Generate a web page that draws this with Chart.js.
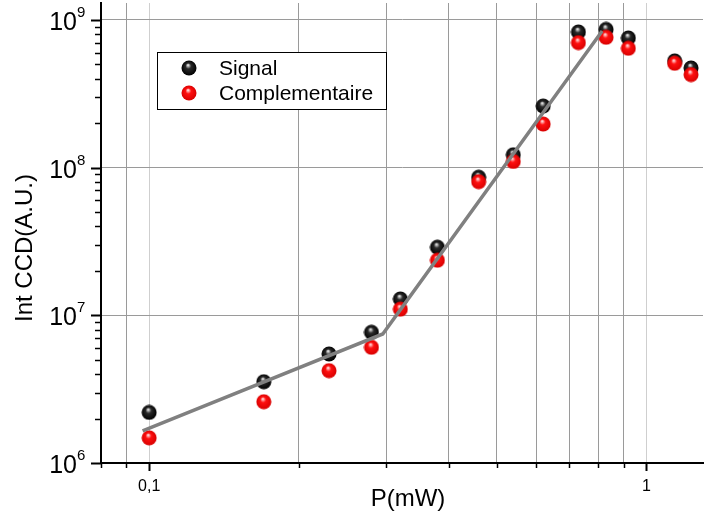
<!DOCTYPE html>
<html>
<head>
<meta charset="utf-8">
<script src="https://cdn.jsdelivr.net/npm/chart.js@4.4.0/dist/chart.umd.min.js"></script>
<style>
  html, body { margin: 0; padding: 0; background: #fff; }
</style>
</head>
<body>
<canvas id="chart" width="708" height="517"></canvas>
<script>
// Data (P in mW, intensity in A.U.)
const powerMW = [0.10, 0.17, 0.23, 0.28, 0.32, 0.38, 0.46, 0.54, 0.62, 0.73, 0.83, 0.92, 1.14, 1.23];
const signalInt = [2.20e6, 3.55e6, 5.47e6, 7.67e6, 1.29e7, 2.89e7, 8.60e7, 1.22e8, 2.61e8, 8.28e8, 8.61e8, 7.54e8, 5.27e8, 4.72e8];
const complInt = [1.48e6, 2.60e6, 4.22e6, 6.07e6, 1.10e7, 2.36e7, 8.03e7, 1.10e8, 1.97e8, 7.01e8, 7.62e8, 6.42e8, 5.08e8, 4.26e8];
const fitPower = [0.097, 0.295, 0.815];
const fitInt = [1.65e6, 7.47e6, 8.4e8];

// Axis ticks
const xTicks = [0.08, 0.09, 0.1, 0.2, 0.3, 0.4, 0.5, 0.6, 0.7, 0.8, 0.9, 1];
const xLabelValues = [0.1, 1];
const xLabelTexts = ['0,1', '1'];
const yTicks = [1e6, 2e6, 3e6, 4e6, 5e6, 6e6, 7e6, 8e6, 9e6,
                1e7, 2e7, 3e7, 4e7, 5e7, 6e7, 7e7, 8e7, 9e7,
                1e8, 2e8, 3e8, 4e8, 5e8, 6e8, 7e8, 8e8, 9e8, 1e9];
const yExponents = [6, 7, 8, 9];
const legendNames = ['Signal', 'Complementaire'];

const FONT = '"Liberation Sans", Arial, sans-serif';

function isDecade(v) {
  const l = Math.log10(v);
  return Math.abs(l - Math.round(l)) < 1e-9;
}

// little shaded balls like the original markers
function sphere(hi, base, edge) {
  const c = document.createElement('canvas');
  c.width = c.height = 16;
  const g = c.getContext('2d');
  const grd = g.createRadialGradient(7, 5, 0.3, 8, 8, 7.6);
  grd.addColorStop(0, hi);
  grd.addColorStop(0.35, base);
  grd.addColorStop(1, edge);
  g.fillStyle = grd;
  g.beginPath();
  g.arc(8, 8, 7.5, 0, Math.PI * 2);
  g.fill();
  return c;
}
const blackBall = sphere('#f0f0f0', '#2a2a2a', '#000000');
const redBall = sphere('#ffe8e8', '#ff1010', '#d80000');

const decorations = {
  id: 'decorations',
  afterDraw(chart) {
    const ctx = chart.ctx;
    const xs = chart.scales.x, ys = chart.scales.y;
    const area = chart.chartArea;
    ctx.save();
    ctx.strokeStyle = '#000';

    // x tick marks
    xTicks.forEach(v => {
      const px = Math.round(xs.getPixelForValue(v)) + 0.5;
      const major = isDecade(v);
      ctx.lineWidth = major ? 2 : 1.5;
      ctx.beginPath();
      ctx.moveTo(px, area.bottom);
      ctx.lineTo(px, area.bottom + (major ? 8 : 5));
      ctx.stroke();
    });
    // y tick marks
    yTicks.forEach(v => {
      const py = Math.round(ys.getPixelForValue(v)) + 0.5;
      const major = isDecade(v);
      ctx.lineWidth = major ? 2 : 1.5;
      ctx.beginPath();
      ctx.moveTo(area.left, py);
      ctx.lineTo(area.left - (major ? 10 : 6), py);
      ctx.stroke();
    });

    ctx.fillStyle = '#000';
    // x tick labels
    ctx.font = '16px ' + FONT;
    ctx.textAlign = 'center';
    ctx.textBaseline = 'middle';
    xLabelValues.forEach((v, i) => {
      ctx.fillText(xLabelTexts[i], xs.getPixelForValue(v), area.bottom + 24);
    });
    // y tick labels 10^n
    ctx.textBaseline = 'alphabetic';
    yExponents.forEach(e => {
      const py = ys.getPixelForValue(Math.pow(10, e));
      ctx.font = '25px ' + FONT;
      ctx.textAlign = 'right';
      ctx.fillText('10', 77, py + 10);
      ctx.font = '15px ' + FONT;
      ctx.textAlign = 'left';
      ctx.fillText(String(e), 77, py - 3);
    });

    // axis titles
    ctx.font = '24px ' + FONT;
    ctx.textAlign = 'center';
    ctx.textBaseline = 'middle';
    ctx.fillText('P(mW)', 408, 499);
    ctx.save();
    ctx.translate(25, 248);
    ctx.rotate(-Math.PI / 2);
    ctx.fillText('Int CCD(A.U.)', 0, 0);
    ctx.restore();

    // legend box
    ctx.fillStyle = '#fff';
    ctx.fillRect(157, 52, 229, 57);
    ctx.lineWidth = 1;
    ctx.strokeStyle = '#000';
    ctx.strokeRect(157.5, 52.5, 229, 57);
    [blackBall, redBall].forEach((img, i) => {
      const cy = 68 + i * 25;
      ctx.drawImage(img, 189 - 8, cy - 8);
      ctx.fillStyle = '#000';
      ctx.font = '21px ' + FONT;
      ctx.textAlign = 'left';
      ctx.textBaseline = 'middle';
      ctx.fillText(legendNames[i], 219, cy + 1);
    });
    ctx.restore();
  }
};

new Chart(document.getElementById('chart'), {
  type: 'scatter',
  data: {
    datasets: [
      {
        label: 'fit',
        data: fitPower.map((p, i) => ({ x: p, y: fitInt[i] })),
        showLine: true,
        borderColor: '#808080',
        borderWidth: 3.5,
        pointRadius: 0,
        order: 1
      },
      {
        label: legendNames[1],
        data: powerMW.map((p, i) => ({ x: p, y: complInt[i] })),
        pointStyle: redBall,
        pointRadius: 7,
        order: 2
      },
      {
        label: legendNames[0],
        data: powerMW.map((p, i) => ({ x: p, y: signalInt[i] })),
        pointStyle: blackBall,
        pointRadius: 7,
        order: 3
      }
    ]
  },
  options: {
    responsive: false,
    animation: false,
    devicePixelRatio: 1,
    layout: { autoPadding: false, padding: { top: 3, right: 5, left: 0, bottom: 0 } },
    plugins: { legend: { display: false }, tooltip: { enabled: false } },
    scales: {
      x: {
        type: 'logarithmic',
        min: 0.08,
        max: 1.3,
        border: { color: '#000', width: 2 },
        grid: {
          drawTicks: false,
          lineWidth: 1,
          color: (c) => {
            const v = c.tick && c.tick.value;
            if (!v || v < 0.085) return 'rgba(0,0,0,0)';
            return isDecade(v) ? '#cfcfcf' : '#9a9a9a';
          }
        },
        ticks: { display: false },
        afterBuildTicks: (s) => { s.ticks = xTicks.map(v => ({ value: v })); },
        afterFit: (s) => { s.height = 54; }
      },
      y: {
        type: 'logarithmic',
        min: 1e6,
        max: 1.3e9,
        border: { color: '#000', width: 2 },
        grid: {
          drawTicks: false,
          lineWidth: 1,
          color: (c) => {
            const v = c.tick && c.tick.value;
            return (v && v > 1e6 && isDecade(v)) ? '#9a9a9a' : 'rgba(0,0,0,0)';
          }
        },
        ticks: { display: false },
        afterBuildTicks: (s) => { s.ticks = yTicks.map(v => ({ value: v })); },
        afterFit: (s) => { s.width = 101; }
      }
    }
  },
  plugins: [decorations]
});
</script>
</body>
</html>
